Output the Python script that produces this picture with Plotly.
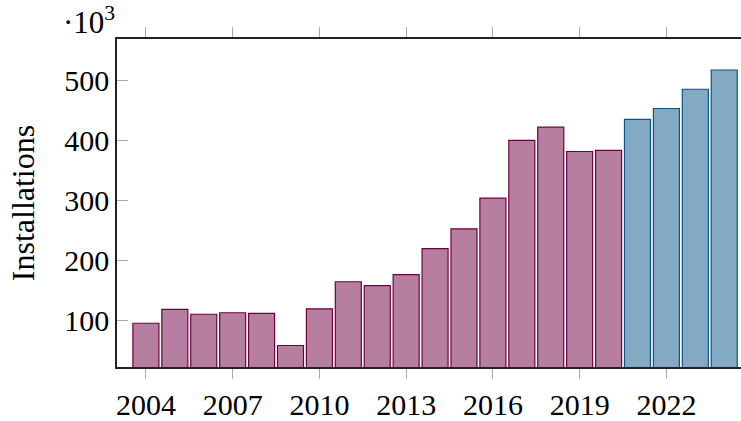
import plotly.graph_objects as go

years_hist = [2004, 2005, 2006, 2007, 2008, 2009, 2010, 2011, 2012, 2013, 2014, 2015, 2016, 2017, 2018, 2019, 2020]
vals_hist = [96, 119, 111, 113.5, 112.5, 59, 120, 165, 158.5, 177, 220, 253, 304, 400, 422, 381.5, 383.5]
years_proj = [2021, 2022, 2023, 2024]
vals_proj = [435, 453, 485, 517]
tick_years = [2004, 2007, 2010, 2013, 2016, 2019, 2022]
y_ticks = [100, 200, 300, 400, 500]

FONT = "Liberation Serif"
purple = "rgb(110,0,65)"
purple_fill = "rgba(110,0,65,0.5)"
blue = "rgb(10,85,135)"
blue_fill = "rgba(10,85,135,0.5)"

fig = go.Figure()
fig.add_trace(go.Bar(x=years_hist, y=vals_hist, width=0.9,
                     marker=dict(color=purple_fill, line=dict(color=purple, width=1.2)),
                     showlegend=False))
fig.add_trace(go.Bar(x=years_proj, y=vals_proj, width=0.9,
                     marker=dict(color=blue_fill, line=dict(color=blue, width=1.2)),
                     showlegend=False))

fig.update_layout(
    width=741, height=421,
    margin=dict(l=117, r=0, t=39, b=48),
    paper_bgcolor="white", plot_bgcolor="white",
    barmode="overlay",
    font=dict(family=FONT, size=30, color="black"),
    xaxis=dict(range=[2003.0, 2024.58], tickvals=tick_years, ticktext=[str(t) for t in tick_years],
               showgrid=False, zeroline=False, showline=True, linecolor="#222", linewidth=1.5,
               mirror="ticks", ticks="outside", ticklen=10, tickwidth=1.2, tickcolor="#aaa",
               tickfont=dict(family=FONT, size=30)),
    yaxis=dict(range=[23.3, 568.5], tickvals=y_ticks, ticktext=[str(t) for t in y_ticks],
               showgrid=False, zeroline=False, showline=True, linecolor="#222", linewidth=1.5,
               ticks="inside", ticklen=11, tickwidth=1.2, tickcolor="#aaa",
               tickfont=dict(family=FONT, size=30),
               title=dict(text="Installations", font=dict(family=FONT, size=32), standoff=20)),
)
fig.add_annotation(text="·10<sup>3</sup>", xref="paper", yref="paper", x=0, y=1.0,
                   xanchor="right", yanchor="bottom", showarrow=False,
                   font=dict(family=FONT, size=31), yshift=-3, xshift=0)

fig.write_html("out.html", config={"displayModeBar": False},
               post_script="document.body.style.margin='0';document.body.style.overflow='hidden';")
